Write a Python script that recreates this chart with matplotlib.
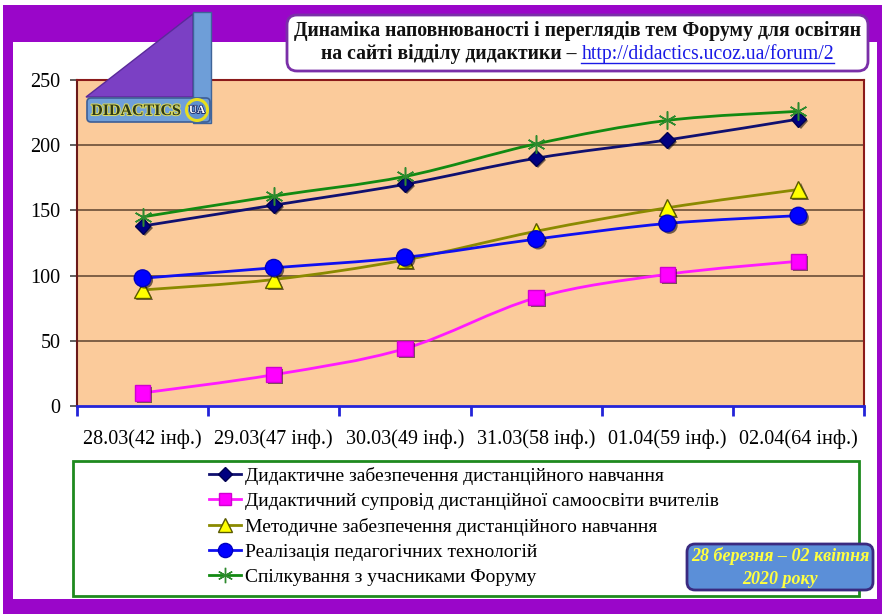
import matplotlib
matplotlib.use("Agg")
import matplotlib.pyplot as plt
import numpy as np
from matplotlib.path import Path
from matplotlib.patches import PathPatch, Rectangle, FancyBboxPatch, Polygon, Circle
from matplotlib.lines import Line2D
import matplotlib.patheffects as pe

# ---------------- data ----------------
categories = ["28.03(42 інф.)", "29.03(47 інф.)", "30.03(49 інф.)",
              "31.03(58 інф.)", "01.04(59 інф.)", "02.04(64 інф.)"]
s_didactic = [138, 154, 170, 190, 204, 220]
s_support = [10, 24, 44, 83, 101, 111]
s_method = [89, 97, 112, 134, 152, 166]
s_tech = [98, 106, 114, 128, 140, 146]
s_forum = [145, 161, 176, 201, 219, 226]
labels = ["Дидактичне забезпечення дистанційного навчання",
          "Дидактичний супровід дистанційної самоосвіти вчителів",
          "Методичне забезпечення дистанційного навчання",
          "Реалізація педагогічних технологій",
          "Спілкування з учасниками Форуму"]
yticks = [0, 50, 100, 150, 200, 250]
title1 = "Динаміка наповнюваності і переглядів тем Форуму для освітян"
title2a = "на сайті відділу дидактики – "
title2b = "http://didactics.ucoz.ua/forum/2"
date_lines = ["28 березня – 02 квітня", "2020 року"]

SERIF = ["Liberation Serif", "DejaVu Serif"]
plt.rcParams['font.family'] = SERIF

W, H = 882, 614
fig = plt.figure(figsize=(W / 100, H / 100), dpi=100)
fig.patch.set_facecolor("white")

# background axes in pixel coords
bg = fig.add_axes([0, 0, 1, 1], zorder=0)
bg.set_xlim(0, W); bg.set_ylim(H, 0); bg.axis("off")
PURPLE = "#9A06C9"
bg.add_patch(Rectangle((3, 5), W - 3, H - 5, facecolor=PURPLE, edgecolor="none"))
bg.add_patch(Rectangle((13, 42), 864, 557, facecolor="white", edgecolor="none"))
# legend frame
bg.add_patch(Rectangle((73, 461), 786, 135, facecolor="white", edgecolor="#1E8A1E", lw=2))

# main axes
L, R, T, B = 77, 864, 80, 406
ax = fig.add_axes([L / W, 1 - B / H, (R - L) / W, (B - T) / H], zorder=2)
ax.set_facecolor("#FBCB9B")
ax.set_xlim(0, 6)
ax.set_ylim(0, 250)
for y in yticks[1:-1]:
    ax.axhline(y, color="#7E6045", lw=1.4, zorder=1)
ax.spines["left"].set_color("#6B1A1A")
ax.spines["top"].set_color("#8B1A1A")
ax.spines["right"].set_color("#8B1A1A")
ax.spines["bottom"].set_color("#2424D8")
ax.spines["bottom"].set_linewidth(2)
ax.spines["left"].set_linewidth(1.5)
ax.spines["top"].set_linewidth(1.5)
ax.spines["right"].set_linewidth(1.5)

xpos = np.arange(len(categories)) + 0.5
ax.set_xticks(xpos)
ax.set_xticklabels(categories, fontsize=14.5)
ax.set_xticks(np.arange(0, 7), minor=True)
ax.tick_params(axis="x", which="major", length=0, pad=17)
ax.tick_params(axis="x", which="minor", length=7, width=2, color="#2424D8", direction="out")
ax.set_yticks(yticks)
ax.set_yticklabels([str(v) for v in yticks], fontsize=14.5)
ax.tick_params(axis="y", length=5, width=1.2, color="#444444", pad=7)


def smooth_patch(xs, ys, color, lw):
    pts = np.column_stack([xs, ys]).astype(float)
    n = len(pts)
    verts = [tuple(pts[0])]
    codes = [Path.MOVETO]
    for i in range(n - 1):
        p0 = pts[i - 1] if i > 0 else pts[i]
        p1 = pts[i]
        p2 = pts[i + 1]
        p3 = pts[i + 2] if i + 2 < n else pts[i + 1]
        c1 = p1 + (p2 - p0) / 6.0
        c2 = p2 - (p3 - p1) / 6.0
        verts += [tuple(c1), tuple(c2), tuple(p2)]
        codes += [Path.CURVE4] * 3
    return PathPatch(Path(verts, codes), fill=False, edgecolor=color, lw=lw, zorder=3,
                     capstyle="round", joinstyle="round")


shadow = [pe.SimplePatchShadow(offset=(1.5, -1.5), shadow_rgbFace="black", alpha=0.55), pe.Normal()]
series = [
    (s_didactic, "#101070", dict(marker="D", ms=8, mfc="#000080", mec="#000050")),
    (s_support, "#FF1AFF", dict(marker="s", ms=11, mfc="#FF00FF", mec="#D000D0")),
    (s_method, "#8A8A00", dict(marker="^", ms=12, mfc="#FFFF00", mec="#5A5A00")),
    (s_tech, "#1010F0", dict(marker="o", ms=12, mfc="#0000FF", mec="#0000C0")),
    (s_forum, "#128A12", dict(marker=(6, 2, 0), ms=13, mfc="#1E8A1E", mec="#2E8A2E", mew=1.1)),
]
handles = []
for (vals, col, mk), lab in zip(series, labels):
    ax.add_patch(smooth_patch(xpos, vals, col, 2.0))
    ln, = ax.plot(xpos, vals, linestyle="none", zorder=4, **mk)
    if mk["marker"] != (6, 2, 0):
        ln.set_path_effects(shadow)
    handles.append(Line2D([], [], color=col, lw=2, marker=mk["marker"],
                          ms=mk["ms"] * 0.85, mfc=mk["mfc"], mec=mk["mec"]))

fig.legend(handles, labels, loc="upper left", bbox_to_anchor=(209 / W, 1 - 467 / H),
           frameon=False, fontsize=14.0, handlelength=1.65, handletextpad=0.2,
           labelspacing=0.39, borderpad=0, borderaxespad=0)

# overlay axes
ov = fig.add_axes([0, 0, 1, 1], zorder=10)
ov.set_xlim(0, W); ov.set_ylim(H, 0); ov.axis("off")
ov.patch.set_alpha(0)

# logo
ov.add_patch(Polygon([(86, 97), (193, 14), (193, 97)], closed=True, facecolor="#7B40C4",
                     edgecolor="#5A2A9A", lw=1))
ov.add_patch(Rectangle((193, 12), 18, 111, facecolor="#6E9ED8", edgecolor="#3F6498", lw=1))
ov.add_patch(FancyBboxPatch((87, 98), 123, 24, boxstyle="round,pad=0,rounding_size=4",
                            facecolor="#6F9FD9", edgecolor="#3D5E96", lw=1.2))
ov.text(136, 111, "DIDACTICS", ha="center", va="center", fontsize=11.5, fontweight="bold",
        color="#2F3A18", path_effects=[pe.withStroke(linewidth=1.5, foreground="#D8D860")])
ov.add_patch(Circle((197, 110), 10.5, facecolor="#5E8FD0", edgecolor="#E6DE1E", lw=2.2))
ov.text(197, 110.5, "UA", ha="center", va="center", fontsize=8, fontweight="bold", color="white",
        path_effects=[pe.withStroke(linewidth=1.2, foreground="#203070")])

# title box
ov.add_patch(FancyBboxPatch((287, 15), 581, 56, boxstyle="round,pad=0,rounding_size=10",
                            facecolor="white", edgecolor="#7A2FA8", lw=2))
cx = (287 + 868) / 2
ov.text(cx, 31, title1, ha="center", va="center", fontsize=14.2, fontweight="bold", color="#111111")
ta = ov.text(0, 54, title2a, ha="left", va="center", fontsize=14.2, fontweight="bold", color="#111111")
tb = ov.text(0, 54, title2b, ha="left", va="center", fontsize=14.2, color="#1A1AE6")
r = fig.canvas.get_renderer()
wa = ta.get_window_extent(r).width
wb = tb.get_window_extent(r).width
x0 = cx - (wa + wb) / 2
ta.set_x(x0)
tb.set_x(x0 + wa)
ov.plot([x0 + wa, x0 + wa + wb], [63, 63], color="#1A1AE6", lw=1)

# date box
ov.add_patch(FancyBboxPatch((687, 544), 186, 46, boxstyle="round,pad=0,rounding_size=8",
                            facecolor="#5B8FD8", edgecolor="#3A2A80", lw=2))
ov.text(780, 556, date_lines[0], ha="center", va="center", fontsize=13, fontweight="bold",
        fontstyle="italic", color="#FFFF40")
ov.text(780, 579, date_lines[1], ha="center", va="center", fontsize=13, fontweight="bold",
        fontstyle="italic", color="#FFFF40")

fig.savefig("out.png", dpi=100)
